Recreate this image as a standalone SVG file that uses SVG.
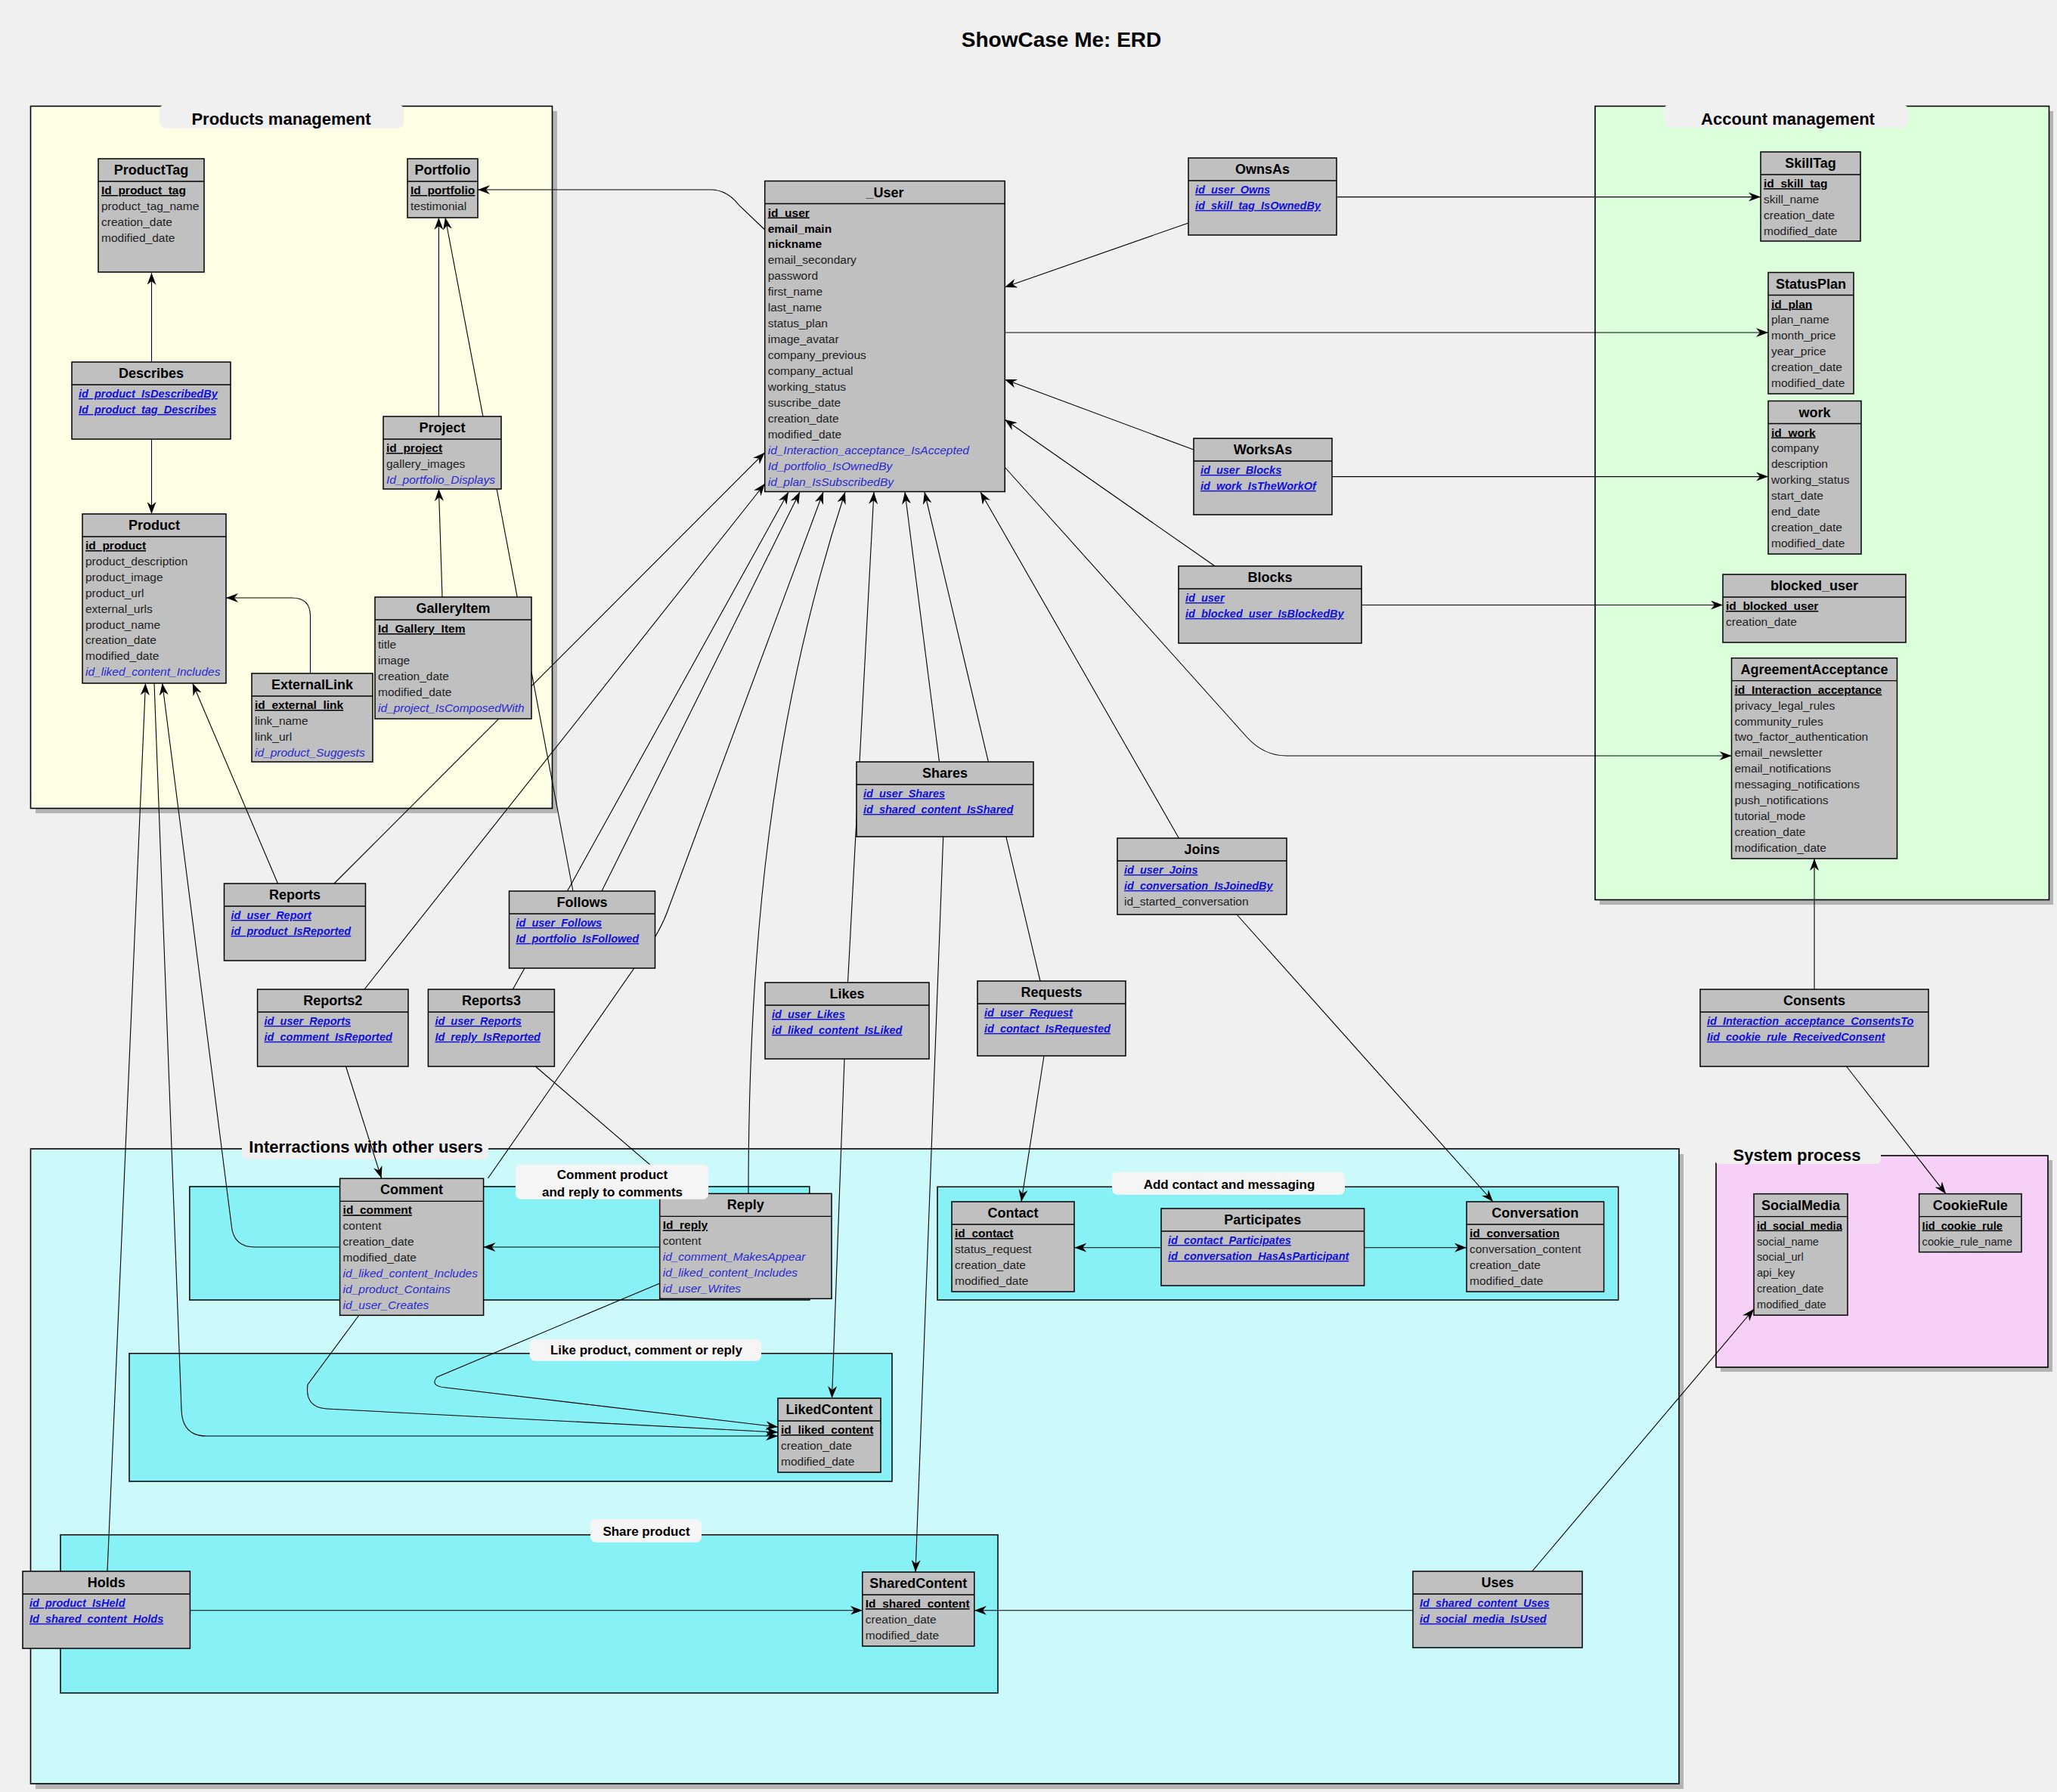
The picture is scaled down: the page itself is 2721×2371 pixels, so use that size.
<svg xmlns="http://www.w3.org/2000/svg" width="2721" height="2371" viewBox="0 0 2721 2371">
<defs>
<marker id="ah" viewBox="0 0 16 12" refX="16" refY="6" markerWidth="16" markerHeight="12" markerUnits="userSpaceOnUse" orient="auto">
<path d="M0,0 L16,6 L0,12 L5,6 z" fill="#000"/>
</marker>
<style>
text{font-family:"Liberation Sans",Arial,sans-serif}
.pt{font-size:28px;font-weight:bold;text-anchor:middle;fill:#000}
.ft{font-size:22px;font-weight:bold;text-anchor:middle;fill:#000}
.st{font-size:17px;font-weight:bold;text-anchor:middle;fill:#000}
.shd{fill:#b4b4b4}
.frm{stroke:#000;stroke-width:1.6}
.sub{fill:#88f1f6;stroke:#000;stroke-width:1.5}
.lbg{fill:#f0f0f0}
.wbg{fill:#f5f5f5}
.box{fill:#c0c0c0;stroke:#000;stroke-width:1.5}
.sep{stroke:#000;stroke-width:1.3}
.ttl{font-size:18px;font-weight:bold;text-anchor:middle;fill:#000}
.a{font-size:15.5px;fill:#222}
.pk{font-weight:bold;text-decoration:underline;fill:#000}
.b{font-weight:bold;fill:#000}
.ref{font-style:italic;fill:#2a2ad2}
.fk{font-size:14.5px;font-style:italic;font-weight:bold;fill:#1010dd;text-decoration:underline}
.sm .a{font-size:14.6px}
.con{fill:none;stroke:#000;stroke-width:1.1;marker-end:url(#ah)}
.nm{fill:none;stroke:#000;stroke-width:1.1}
</style>
</defs>

<!-- page -->
<rect x="0" y="0" width="2721" height="2371" fill="#f0f0f0"/>
<text class="pt" x="1404" y="62">ShowCase Me: ERD</text>

<!-- area frames -->
<g id="frame-products">
<rect class="shd" x="47" y="147" width="690" height="929"/>
<rect class="frm" x="40.5" y="140.5" width="690" height="929" fill="#ffffe6"/>
<rect class="lbg" x="211" y="138" width="323" height="32" rx="8"/>
<text class="ft" x="372" y="164.5">Products management</text>
</g>
<g id="frame-account">
<rect class="shd" x="2116" y="147" width="600" height="1050"/>
<rect class="frm" x="2110" y="140.5" width="600.5" height="1050" fill="#dcffdc"/>
<rect class="lbg" x="2201" y="138" width="323" height="31" rx="8"/>
<text class="ft" x="2365" y="165">Account management</text>
</g>
<g id="frame-interactions">
<rect class="shd" x="47" y="1527" width="2180" height="840"/>
<rect class="frm" x="40.5" y="1520" width="2180.5" height="840" fill="#ccf9fa"/>
<rect class="lbg" x="320" y="1504" width="326" height="30" rx="6"/>
<text class="ft" x="484" y="1525">Interractions with other users</text>
</g>
<g id="frame-system">
<rect class="shd" x="2276" y="1535" width="439" height="280"/>
<rect class="frm" x="2270" y="1529" width="439" height="280" fill="#f6d0f6"/>
<rect class="lbg" x="2268" y="1510" width="220" height="30" rx="6"/>
<text class="ft" x="2377" y="1536">System process</text>
</g>

<!-- sub areas -->
<rect class="sub" x="250.8" y="1570" width="820" height="150"/>
<rect class="sub" x="1240" y="1570.3" width="900.7" height="149.7"/>
<rect class="sub" x="171" y="1790.7" width="1009" height="169.3"/>
<rect class="sub" x="80" y="2030.7" width="1240" height="209.3"/>

<!-- connectors -->
<g id="connectors">
<path class="con" d="M200.5,479 V361"/>
<path class="con" d="M200.5,581 V680"/>
<path class="con" d="M580.4,551 V288"/>
<path class="con" d="M758,1179 L589,288"/>
<path class="con" d="M585,790 L580.4,647"/>
<path class="con" d="M410.5,891 V815 Q410.5,791 386,791 H299"/>
<path class="con" d="M367.5,1169 L254.8,904"/>
<path class="con" d="M442,1169 L1011.7,598.7"/>
<path class="con" d="M482,1309 L1011.7,640"/>
<path class="con" d="M457.5,1411 L504.6,1559"/>
<path class="con" d="M678.4,1309 L1043,651"/>
<path class="con" d="M708.4,1411 L904,1579"/>
<path class="con" d="M796,1179 L1058,651"/>
<path class="con" d="M645.5,1559 L850,1265 Q875,1230 885,1200 L1089,651"/>
<path class="con" d="M990,1579 C990,1250 1020,950 1118,651"/>
<path class="con" d="M1121.5,1300 L1156,651"/>
<path class="con" d="M1117,1401 L1100.5,1850"/>
<path class="con" d="M1242.5,1008 L1197,651"/>
<path class="con" d="M1247.7,1107 L1211,2080"/>
<path class="con" d="M1376,1298 L1223,651"/>
<path class="con" d="M1381,1397 L1351,1590"/>
<path class="con" d="M1559.4,1109 L1297,651"/>
<path class="con" d="M1636,1210 L1975,1590"/>
<path class="con" d="M1572,295 L1329,380"/>
<path class="con" d="M1768,260.6 H2329"/>
<path class="con" d="M1329,440 H2339"/>
<path class="con" d="M1579,595 L1329,502"/>
<path class="con" d="M1762,630.6 H2339"/>
<path class="con" d="M1607,749 L1329,555"/>
<path class="con" d="M1801,800.5 H2279"/>
<path class="con" d="M1329,618 L1650,976 Q1672,1000 1702,1000 H2290.5"/>
<path class="con" d="M2400,1309 V1136"/>
<path class="con" d="M2442.5,1411 L2574,1579.6"/>
<path class="con" d="M2026.7,2079 L2320,1732"/>
<path class="con" d="M1869,2130.7 H1289"/>
<path class="con" d="M251.4,2130.7 H1140.8"/>
<path class="con" d="M142,2079 L192.5,904"/>
<path class="con" d="M204,904 L240,1865 Q241,1900 273,1900 H1029"/>
<path class="con" d="M475,1740 L407,1832 Q403,1862 432,1864 L1029,1895"/>
<path class="con" d="M872.7,1698 L578,1822 Q568,1834 590,1836 L1029,1888"/>
<path class="con" d="M449.6,1650 H337 Q308,1650 306,1620 L214.7,904"/>
<path class="con" d="M872.7,1650 H639.5"/>
<path class="con" d="M1536,1650.7 H1421.3"/>
<path class="con" d="M1804.6,1650.7 H1940"/>
<path class="con" d="M1011.7,304 L978,272 Q962,251 940,251 H632"/>
</g>

<!-- Products management -->
<g id="n-ProductTag">
<rect class="box" x="130" y="210" width="140" height="150"/><line class="sep" x1="130" y1="240" x2="270" y2="240"/>
<text class="ttl" x="200" y="231">ProductTag</text>
<text class="a pk" x="134" y="257">Id_product_tag</text>
<text class="a" x="134" y="277.9">product_tag_name</text>
<text class="a" x="134" y="298.8">creation_date</text>
<text class="a" x="134" y="319.7">modified_date</text>
</g>
<g id="n-Portfolio">
<rect class="box" x="539" y="210" width="93" height="78"/><line class="sep" x1="539" y1="240" x2="632" y2="240"/>
<text class="ttl" x="585.5" y="231">Portfolio</text>
<text class="a pk" x="543" y="257">Id_portfolio</text>
<text class="a" x="543" y="277.9">testimonial</text>
</g>
<g id="n-Describes">
<rect class="box" x="95" y="479" width="210" height="102"/><line class="sep" x1="95" y1="509" x2="305" y2="509"/>
<text class="ttl" x="200" y="500">Describes</text>
<text class="fk" x="104" y="526">id_product_IsDescribedBy</text>
<text class="fk" x="104" y="546.9">Id_product_tag_Describes</text>
</g>
<g id="n-Project">
<rect class="box" x="507" y="551" width="156" height="96"/><line class="sep" x1="507" y1="581" x2="663" y2="581"/>
<text class="ttl" x="585" y="572">Project</text>
<text class="a pk" x="511" y="598">id_project</text>
<text class="a" x="511" y="618.9">gallery_images</text>
<text class="a ref" x="511" y="639.8">Id_portfolio_Displays</text>
</g>
<g id="n-Product">
<rect class="box" x="109" y="680" width="190" height="224"/><line class="sep" x1="109" y1="710" x2="299" y2="710"/>
<text class="ttl" x="204" y="701">Product</text>
<text class="a pk" x="113" y="727">id_product</text>
<text class="a" x="113" y="747.9">product_description</text>
<text class="a" x="113" y="768.8">product_image</text>
<text class="a" x="113" y="789.7">product_url</text>
<text class="a" x="113" y="810.6">external_urls</text>
<text class="a" x="113" y="831.5">product_name</text>
<text class="a" x="113" y="852.4">creation_date</text>
<text class="a" x="113" y="873.3">modified_date</text>
<text class="a ref" x="113" y="894.2">id_liked_content_Includes</text>
</g>
<g id="n-ExternalLink">
<rect class="box" x="333" y="891" width="160" height="117"/><line class="sep" x1="333" y1="921" x2="493" y2="921"/>
<text class="ttl" x="413" y="912">ExternalLink</text>
<text class="a pk" x="337" y="938">id_external_link</text>
<text class="a" x="337" y="958.9">link_name</text>
<text class="a" x="337" y="979.8">link_url</text>
<text class="a ref" x="337" y="1000.7">id_product_Suggests</text>
</g>
<g id="n-GalleryItem">
<rect class="box" x="496" y="790" width="207" height="161"/><line class="sep" x1="496" y1="820" x2="703" y2="820"/>
<text class="ttl" x="599.5" y="811">GalleryItem</text>
<text class="a pk" x="500" y="837">Id_Gallery_Item</text>
<text class="a" x="500" y="857.9">title</text>
<text class="a" x="500" y="878.8">image</text>
<text class="a" x="500" y="899.7">creation_date</text>
<text class="a" x="500" y="920.6">modified_date</text>
<text class="a ref" x="500" y="941.5">id_project_IsComposedWith</text>
</g>

<!-- central entities -->
<g id="n-User">
<rect class="box" x="1011.7" y="239.5" width="317.5" height="411"/><line class="sep" x1="1011.7" y1="269.5" x2="1329.2" y2="269.5"/>
<text class="ttl" x="1170.5" y="260.5">_User</text>
<text class="a pk" x="1015.7" y="286.5">id_user</text>
<text class="a b" x="1015.7" y="307.5">email_main</text>
<text class="a b" x="1015.7" y="328.4">nickname</text>
<text class="a" x="1015.7" y="349.4">email_secondary</text>
<text class="a" x="1015.7" y="370.3">password</text>
<text class="a" x="1015.7" y="391.3">first_name</text>
<text class="a" x="1015.7" y="412.2">last_name</text>
<text class="a" x="1015.7" y="433.2">status_plan</text>
<text class="a" x="1015.7" y="454.1">image_avatar</text>
<text class="a" x="1015.7" y="475.1">company_previous</text>
<text class="a" x="1015.7" y="496">company_actual</text>
<text class="a" x="1015.7" y="517">working_status</text>
<text class="a" x="1015.7" y="537.9">suscribe_date</text>
<text class="a" x="1015.7" y="558.9">creation_date</text>
<text class="a" x="1015.7" y="579.8">modified_date</text>
<text class="a ref" x="1015.7" y="600.8">id_Interaction_acceptance_IsAccepted</text>
<text class="a ref" x="1015.7" y="621.7">Id_portfolio_IsOwnedBy</text>
<text class="a ref" x="1015.7" y="642.7">id_plan_IsSubscribedBy</text>
</g>
<g id="n-OwnsAs">
<rect class="box" x="1572" y="209" width="196" height="102"/><line class="sep" x1="1572" y1="239" x2="1768" y2="239"/>
<text class="ttl" x="1670" y="230">OwnsAs</text>
<text class="fk" x="1581" y="256">id_user_Owns</text>
<text class="fk" x="1581" y="276.9">id_skill_tag_IsOwnedBy</text>
</g>
<g id="n-WorksAs">
<rect class="box" x="1579" y="580" width="183" height="101"/><line class="sep" x1="1579" y1="610" x2="1762" y2="610"/>
<text class="ttl" x="1670.5" y="601">WorksAs</text>
<text class="fk" x="1588" y="627">id_user_Blocks</text>
<text class="fk" x="1588" y="647.9">id_work_IsTheWorkOf</text>
</g>
<g id="n-Blocks">
<rect class="box" x="1559" y="749" width="242" height="102"/><line class="sep" x1="1559" y1="779" x2="1801" y2="779"/>
<text class="ttl" x="1680" y="770">Blocks</text>
<text class="fk" x="1568" y="796">id_user</text>
<text class="fk" x="1568" y="816.9">id_blocked_user_IsBlockedBy</text>
</g>
<g id="n-Joins">
<rect class="box" x="1478" y="1109" width="224" height="101"/><line class="sep" x1="1478" y1="1139" x2="1702" y2="1139"/>
<text class="ttl" x="1590" y="1130">Joins</text>
<text class="fk" x="1487" y="1156">id_user_Joins</text>
<text class="fk" x="1487" y="1176.9">id_conversation_IsJoinedBy</text>
<text class="a" x="1487" y="1197.8">id_started_conversation</text>
</g>
<g id="n-Shares">
<rect class="box" x="1133" y="1008" width="234" height="99"/><line class="sep" x1="1133" y1="1038" x2="1367" y2="1038"/>
<text class="ttl" x="1250" y="1029">Shares</text>
<text class="fk" x="1142" y="1055">id_user_Shares</text>
<text class="fk" x="1142" y="1075.9">id_shared_content_IsShared</text>
</g>
<g id="n-Requests">
<rect class="box" x="1293" y="1298" width="196" height="99"/><line class="sep" x1="1293" y1="1328" x2="1489" y2="1328"/>
<text class="ttl" x="1391" y="1319">Requests</text>
<text class="fk" x="1302" y="1345">id_user_Request</text>
<text class="fk" x="1302" y="1365.9">id_contact_IsRequested</text>
</g>
<g id="n-Likes">
<rect class="box" x="1012" y="1300" width="217" height="101"/><line class="sep" x1="1012" y1="1330" x2="1229" y2="1330"/>
<text class="ttl" x="1120.5" y="1321">Likes</text>
<text class="fk" x="1021" y="1347">id_user_Likes</text>
<text class="fk" x="1021" y="1367.9">id_liked_content_IsLiked</text>
</g>
<g id="n-Follows">
<rect class="box" x="673.5" y="1179" width="193" height="102"/><line class="sep" x1="673.5" y1="1209" x2="866.5" y2="1209"/>
<text class="ttl" x="770" y="1200">Follows</text>
<text class="fk" x="682.5" y="1226">id_user_Follows</text>
<text class="fk" x="682.5" y="1246.9">Id_portfolio_IsFollowed</text>
</g>
<g id="n-Reports">
<rect class="box" x="296.5" y="1169" width="187" height="102"/><line class="sep" x1="296.5" y1="1199" x2="483.5" y2="1199"/>
<text class="ttl" x="390" y="1190">Reports</text>
<text class="fk" x="305.5" y="1216">id_user_Report</text>
<text class="fk" x="305.5" y="1236.9">id_product_IsReported</text>
</g>
<g id="n-Reports2">
<rect class="box" x="340.6" y="1309" width="199.4" height="102"/><line class="sep" x1="340.6" y1="1339" x2="540" y2="1339"/>
<text class="ttl" x="440.3" y="1330">Reports2</text>
<text class="fk" x="349.6" y="1356">id_user_Reports</text>
<text class="fk" x="349.6" y="1376.9">id_comment_IsReported</text>
</g>
<g id="n-Reports3">
<rect class="box" x="566.4" y="1309" width="167" height="102"/><line class="sep" x1="566.4" y1="1339" x2="733.4" y2="1339"/>
<text class="ttl" x="650" y="1330">Reports3</text>
<text class="fk" x="575.4" y="1356">id_user_Reports</text>
<text class="fk" x="575.4" y="1376.9">Id_reply_IsReported</text>
</g>

<!-- Account management -->
<g id="n-SkillTag">
<rect class="box" x="2329" y="201" width="132" height="118"/><line class="sep" x1="2329" y1="231" x2="2461" y2="231"/>
<text class="ttl" x="2395" y="222">SkillTag</text>
<text class="a pk" x="2333" y="248">id_skill_tag</text>
<text class="a" x="2333" y="268.9">skill_name</text>
<text class="a" x="2333" y="289.8">creation_date</text>
<text class="a" x="2333" y="310.7">modified_date</text>
</g>
<g id="n-StatusPlan">
<rect class="box" x="2339" y="360.5" width="113" height="160.5"/><line class="sep" x1="2339" y1="390.5" x2="2452" y2="390.5"/>
<text class="ttl" x="2395.5" y="381.5">StatusPlan</text>
<text class="a pk" x="2343" y="407.5">id_plan</text>
<text class="a" x="2343" y="428.4">plan_name</text>
<text class="a" x="2343" y="449.3">month_price</text>
<text class="a" x="2343" y="470.2">year_price</text>
<text class="a" x="2343" y="491.1">creation_date</text>
<text class="a" x="2343" y="512">modified_date</text>
</g>
<g id="n-work">
<rect class="box" x="2339" y="530.5" width="123" height="202.5"/><line class="sep" x1="2339" y1="560.5" x2="2462" y2="560.5"/>
<text class="ttl" x="2400.5" y="551.5">work</text>
<text class="a pk" x="2343" y="577.5">id_work</text>
<text class="a" x="2343" y="598.4">company</text>
<text class="a" x="2343" y="619.3">description</text>
<text class="a" x="2343" y="640.2">working_status</text>
<text class="a" x="2343" y="661.1">start_date</text>
<text class="a" x="2343" y="682">end_date</text>
<text class="a" x="2343" y="702.9">creation_date</text>
<text class="a" x="2343" y="723.8">modified_date</text>
</g>
<g id="n-blocked_user">
<rect class="box" x="2279" y="760" width="242" height="90"/><line class="sep" x1="2279" y1="790" x2="2521" y2="790"/>
<text class="ttl" x="2400" y="781">blocked_user</text>
<text class="a pk" x="2283" y="807">id_blocked_user</text>
<text class="a" x="2283" y="827.9">creation_date</text>
</g>
<g id="n-AgreementAcceptance">
<rect class="box" x="2290.5" y="870.7" width="219" height="265.3"/><line class="sep" x1="2290.5" y1="900.7" x2="2509.5" y2="900.7"/>
<text class="ttl" x="2400" y="891.7">AgreementAcceptance</text>
<text class="a pk" x="2294.5" y="917.7">id_Interaction_acceptance</text>
<text class="a" x="2294.5" y="938.6">privacy_legal_rules</text>
<text class="a" x="2294.5" y="959.5">community_rules</text>
<text class="a" x="2294.5" y="980.4">two_factor_authentication</text>
<text class="a" x="2294.5" y="1001.3">email_newsletter</text>
<text class="a" x="2294.5" y="1022.2">email_notifications</text>
<text class="a" x="2294.5" y="1043.1">messaging_notifications</text>
<text class="a" x="2294.5" y="1064">push_notifications</text>
<text class="a" x="2294.5" y="1084.9">tutorial_mode</text>
<text class="a" x="2294.5" y="1105.8">creation_date</text>
<text class="a" x="2294.5" y="1126.7">modification_date</text>
</g>
<g id="n-Consents">
<rect class="box" x="2249" y="1309" width="302" height="102"/><line class="sep" x1="2249" y1="1339" x2="2551" y2="1339"/>
<text class="ttl" x="2400" y="1330">Consents</text>
<text class="fk" x="2258" y="1356">id_Interaction_acceptance_ConsentsTo</text>
<text class="fk" x="2258" y="1376.9">Iid_cookie_rule_ReceivedConsent</text>
</g>

<!-- Interactions -->
<g id="n-Comment">
<rect class="box" x="449.6" y="1559.3" width="190" height="181"/><line class="sep" x1="449.6" y1="1589.3" x2="639.6" y2="1589.3"/>
<text class="ttl" x="544.6" y="1580.3">Comment</text>
<text class="a pk" x="453.6" y="1606.3">id_comment</text>
<text class="a" x="453.6" y="1627.3">content</text>
<text class="a" x="453.6" y="1648.3">creation_date</text>
<text class="a" x="453.6" y="1669.3">modified_date</text>
<text class="a ref" x="453.6" y="1690.3">id_liked_content_Includes</text>
<text class="a ref" x="453.6" y="1711.3">id_product_Contains</text>
<text class="a ref" x="453.6" y="1732.3">id_user_Creates</text>
</g>
<g id="n-Reply">
<rect class="box" x="872.7" y="1579.3" width="227.3" height="139"/><line class="sep" x1="872.7" y1="1609.3" x2="1100" y2="1609.3"/>
<text class="ttl" x="986.3" y="1600.3">Reply</text>
<text class="a pk" x="876.7" y="1626.3">Id_reply</text>
<text class="a" x="876.7" y="1647.3">content</text>
<text class="a ref" x="876.7" y="1668.3">id_comment_MakesAppear</text>
<text class="a ref" x="876.7" y="1689.3">id_liked_content_Includes</text>
<text class="a ref" x="876.7" y="1710.3">id_user_Writes</text>
</g>
<g id="n-LikedContent">
<rect class="box" x="1029" y="1850" width="136" height="98"/><line class="sep" x1="1029" y1="1880" x2="1165" y2="1880"/>
<text class="ttl" x="1097" y="1871">LikedContent</text>
<text class="a pk" x="1033" y="1897">id_liked_content</text>
<text class="a" x="1033" y="1917.9">creation_date</text>
<text class="a" x="1033" y="1938.8">modified_date</text>
</g>
<g id="n-Contact">
<rect class="box" x="1259" y="1590" width="162" height="119"/><line class="sep" x1="1259" y1="1620" x2="1421" y2="1620"/>
<text class="ttl" x="1340" y="1611">Contact</text>
<text class="a pk" x="1263" y="1637">id_contact</text>
<text class="a" x="1263" y="1657.9">status_request</text>
<text class="a" x="1263" y="1678.8">creation_date</text>
<text class="a" x="1263" y="1699.7">modified_date</text>
</g>
<g id="n-Participates">
<rect class="box" x="1536" y="1599" width="268.6" height="102"/><line class="sep" x1="1536" y1="1629" x2="1804.6" y2="1629"/>
<text class="ttl" x="1670.3" y="1620">Participates</text>
<text class="fk" x="1545" y="1646">id_contact_Participates</text>
<text class="fk" x="1545" y="1666.9">id_conversation_HasAsParticipant</text>
</g>
<g id="n-Conversation">
<rect class="box" x="1940" y="1590" width="181.6" height="119"/><line class="sep" x1="1940" y1="1620" x2="2121.6" y2="1620"/>
<text class="ttl" x="2030.8" y="1611">Conversation</text>
<text class="a pk" x="1944" y="1637">id_conversation</text>
<text class="a" x="1944" y="1657.9">conversation_content</text>
<text class="a" x="1944" y="1678.8">creation_date</text>
<text class="a" x="1944" y="1699.7">modified_date</text>
</g>
<g id="n-Holds">
<rect class="box" x="30" y="2079" width="221.4" height="102"/><line class="sep" x1="30" y1="2109" x2="251.4" y2="2109"/>
<text class="ttl" x="140.7" y="2100">Holds</text>
<text class="fk" x="39" y="2126">id_product_IsHeld</text>
<text class="fk" x="39" y="2146.9">Id_shared_content_Holds</text>
</g>
<g id="n-SharedContent">
<rect class="box" x="1140.8" y="2080" width="148" height="98"/><line class="sep" x1="1140.8" y1="2110" x2="1288.8" y2="2110"/>
<text class="ttl" x="1214.8" y="2101">SharedContent</text>
<text class="a pk" x="1144.8" y="2127">Id_shared_content</text>
<text class="a" x="1144.8" y="2147.9">creation_date</text>
<text class="a" x="1144.8" y="2168.8">modified_date</text>
</g>
<g id="n-Uses">
<rect class="box" x="1869" y="2079" width="224" height="101"/><line class="sep" x1="1869" y1="2109" x2="2093" y2="2109"/>
<text class="ttl" x="1981" y="2100">Uses</text>
<text class="fk" x="1878" y="2126">Id_shared_content_Uses</text>
<text class="fk" x="1878" y="2146.9">id_social_media_IsUsed</text>
</g>

<!-- System process -->
<g id="n-SocialMedia" class="sm">
<rect class="box" x="2320" y="1579.6" width="124" height="160.5"/><line class="sep" x1="2320" y1="1609.6" x2="2444" y2="1609.6"/>
<text class="ttl" x="2382" y="1600.6">SocialMedia</text>
<text class="a pk" x="2324" y="1626.6">id_social_media</text>
<text class="a" x="2324" y="1647.5">social_name</text>
<text class="a" x="2324" y="1668.4">social_url</text>
<text class="a" x="2324" y="1689.3">api_key</text>
<text class="a" x="2324" y="1710.2">creation_date</text>
<text class="a" x="2324" y="1731.1">modified_date</text>
</g>
<g id="n-CookieRule" class="sm">
<rect class="box" x="2538.6" y="1579.6" width="135.4" height="77"/><line class="sep" x1="2538.6" y1="1609.6" x2="2674" y2="1609.6"/>
<text class="ttl" x="2606.3" y="1600.6">CookieRule</text>
<text class="a pk" x="2542.6" y="1626.6">Iid_cookie_rule</text>
<text class="a" x="2542.6" y="1647.5">cookie_rule_name</text>
</g>

<!-- sub area labels -->
<g id="sub-labels">
<rect class="wbg" x="682" y="1540.7" width="255" height="46" rx="7"/>
<text class="st" x="810" y="1560">Comment product</text>
<text class="st" x="810" y="1583">and reply to comments</text>
<rect class="wbg" x="1471" y="1550.7" width="308" height="30" rx="7"/>
<text class="st" x="1626" y="1572.5">Add contact and messaging</text>
<rect class="wbg" x="700.7" y="1771.7" width="306.3" height="29" rx="7"/>
<text class="st" x="855" y="1792.3">Like product, comment or reply</text>
<rect class="wbg" x="781" y="2010" width="147" height="30.7" rx="7"/>
<text class="st" x="855" y="2032">Share product</text>
</g>
</svg>
